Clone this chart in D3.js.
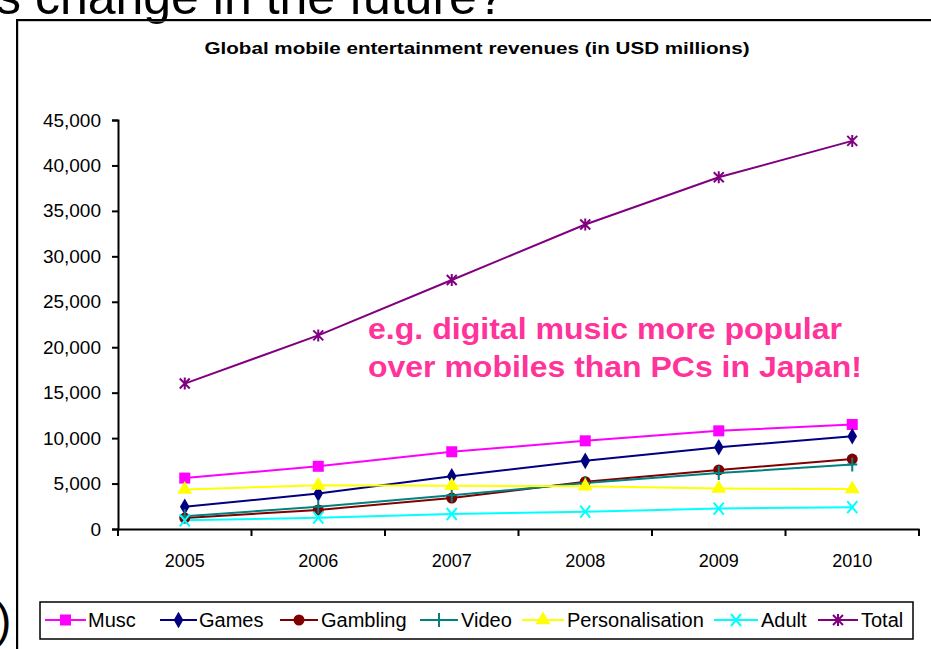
<!DOCTYPE html>
<html>
<head>
<meta charset="utf-8">
<script src="https://cdnjs.cloudflare.com/ajax/libs/d3/7.8.5/d3.min.js"></script>
<style>
  html, body { margin: 0; padding: 0; background: #fff; overflow: hidden; }
  svg { display: block; font-family: "Liberation Sans", Arial, sans-serif; }
  .narrow { font-family: "Liberation Sans Narrow", "Arial Narrow", "Liberation Sans", sans-serif; }
</style>
</head>
<body>
<svg id="svg" width="931" height="649"></svg>
<script>
// years on the x axis
const years = ["2005", "2006", "2007", "2008", "2009", "2010"];
const yTicks = [0, 5000, 10000, 15000, 20000, 25000, 30000, 35000, 40000, 45000];

// revenues, USD millions
const music           = [5600, 6900, 8500, 9700, 10800, 11500];
const games           = [2450, 3900, 5800, 7500, 9000, 10200];
const gambling        = [1200, 2100, 3400, 5200, 6500, 7700];
const video           = [1400, 2450, 3700, 5050, 6150, 7100];
const personalisation = [4350, 4800, 4750, 4700, 4450, 4400];
const adult           = [950, 1250, 1650, 1900, 2250, 2400];
const total           = [16000, 21300, 27400, 33500, 38700, 42700];

const names  = ["Musc", "Games", "Gambling", "Video", "Personalisation", "Adult", "Total"];
const colors = ["#ff00ff", "#000080", "#800000", "#008080", "#ffff00", "#00ffff", "#800080"];
const series = [music, games, gambling, video, personalisation, adult, total];

const svg = d3.select("#svg");

// slide leftovers around the chart
svg.append("text")
   .attr("x", -4).attr("y", 14)
   .style("font-size", "50px")
   .text("s change in the future?");
svg.append("text")
   .attr("x", -4).attr("y", 636)
   .style("font-size", "46px")
   .text(")");

// chart frame (only top & left visible)
svg.append("path")
   .attr("d", "M18,649 V21 H931")
   .attr("fill", "none").attr("stroke", "#999").attr("stroke-width", 1);
svg.append("path")
   .attr("d", "M17,649 V20 H931")
   .attr("fill", "none").attr("stroke", "#000").attr("stroke-width", 2);

// title
svg.append("text")
   .attr("class", "narrow")
   .attr("x", 477).attr("y", 54)
   .attr("text-anchor", "middle")
   .attr("textLength", 545).attr("lengthAdjust", "spacingAndGlyphs")
   .style("font-size", "17px").style("font-weight", "bold")
   .text("Global mobile entertainment revenues (in USD millions)");

const x = d3.scaleBand().domain(years).range([118, 919]).padding(0);
const y = d3.scaleLinear().domain([0, 45000]).range([529, 120]);
const cx = d => x(d) + x.bandwidth() / 2;

// y axis
const yAxis = svg.append("g")
   .attr("transform", "translate(118,0)")
   .call(d3.axisLeft(y).tickValues(yTicks).tickFormat(d3.format(",")).tickSize(6).tickPadding(11));
yAxis.select(".domain").attr("stroke", "#000").attr("stroke-width", 2);
yAxis.selectAll(".tick line").attr("stroke", "#000").attr("stroke-width", 2);
yAxis.selectAll("text").attr("class", "narrow").style("font-size", "19px").attr("font-family", null).attr("fill", "#000");

// x axis, ticks sit between categories
const xAxis = svg.append("g")
   .attr("transform", "translate(0,529)")
   .call(d3.axisBottom(x).tickSize(0).tickPadding(25).tickSizeOuter(0));
xAxis.select(".domain").attr("stroke", "#000").attr("stroke-width", 2);
xAxis.selectAll("text").attr("class", "narrow").style("font-size", "18px").attr("font-family", null).attr("fill", "#000");
xAxis.selectAll(".sep")
   .data(years.concat(["end"]))
   .join("line")
   .attr("class", "sep")
   .attr("x1", (d, i) => i < years.length ? x(d) : x(years[years.length - 1]) + x.bandwidth())
   .attr("x2", (d, i) => i < years.length ? x(d) : x(years[years.length - 1]) + x.bandwidth())
   .attr("y1", 0).attr("y2", 7)
   .attr("stroke", "#000").attr("stroke-width", 2);

// marker shapes
function marker(g, i, px, py) {
  const c = colors[i];
  if (i === 0) {
    g.append("rect").attr("x", px - 5.5).attr("y", py - 5.5).attr("width", 11).attr("height", 11).attr("fill", c);
  } else if (i === 1) {
    g.append("path").attr("transform", `translate(${px},${py})`)
     .attr("d", d3.symbol(d3.symbolDiamond, 80)()).attr("fill", c);
  } else if (i === 2) {
    g.append("circle").attr("cx", px).attr("cy", py).attr("r", 5.5).attr("fill", c);
  } else if (i === 3) {
    g.append("path").attr("d", `M${px - 5},${py}H${px + 5}M${px},${py - 7}V${py + 7}`)
     .attr("stroke", c).attr("stroke-width", 2);
  } else if (i === 4) {
    g.append("path").attr("transform", `translate(${px},${py})`)
     .attr("d", d3.symbol(d3.symbolTriangle, 95)()).attr("fill", c);
  } else if (i === 5) {
    g.append("path").attr("d", `M${px - 5},${py - 6}L${px + 5},${py + 6}M${px + 5},${py - 6}L${px - 5},${py + 6}`)
     .attr("stroke", c).attr("stroke-width", 2);
  } else {
    g.append("path").attr("d", `M${px - 5},${py - 5}L${px + 5},${py + 5}M${px + 5},${py - 5}L${px - 5},${py + 5}M${px},${py - 6}V${py + 6}`)
     .attr("stroke", c).attr("stroke-width", 2);
  }
}

// lines + markers
const line = d3.line().x((d, i) => cx(years[i])).y(d => y(d));
const plot = svg.append("g");
series.forEach((s, i) => {
  plot.append("path")
      .datum(s)
      .attr("d", line)
      .attr("fill", "none")
      .attr("stroke", colors[i])
      .attr("stroke-width", 2);
});
series.forEach((s, i) => {
  s.forEach((v, j) => marker(plot, i, cx(years[j]), y(v)));
});

// annotation
const note = svg.append("g")
   .style("font-size", "30px").style("font-weight", "bold").attr("fill", "#ff3399");
note.append("text").attr("x", 368).attr("y", 339)
    .attr("textLength", 474).attr("lengthAdjust", "spacingAndGlyphs")
    .text("e.g. digital music more popular");
note.append("text").attr("x", 368).attr("y", 377)
    .attr("textLength", 494).attr("lengthAdjust", "spacingAndGlyphs")
    .text("over mobiles than PCs in Japan!");

// legend
const legend = svg.append("g");
legend.append("rect")
   .attr("x", 40).attr("y", 602).attr("width", 873).attr("height", 37)
   .attr("fill", "#fff").attr("stroke", "#000").attr("stroke-width", 1.5);
const legLine = [[45, 86], [160, 197], [280, 318], [420, 458], [522, 564], [714, 758], [818, 858]];
const legText = [88, 199, 321, 461, 567, 761, 861];
names.forEach((n, i) => {
  const [a, b] = legLine[i];
  legend.append("line")
        .attr("x1", a).attr("x2", b).attr("y1", 620).attr("y2", 620)
        .attr("stroke", colors[i]).attr("stroke-width", 2);
  marker(legend, i, (a + b) / 2, 620);
  legend.append("text")
        .attr("class", "narrow")
        .attr("x", legText[i]).attr("y", 627)
        .style("font-size", "20px")
        .text(n);
});
</script>
</body>
</html>
